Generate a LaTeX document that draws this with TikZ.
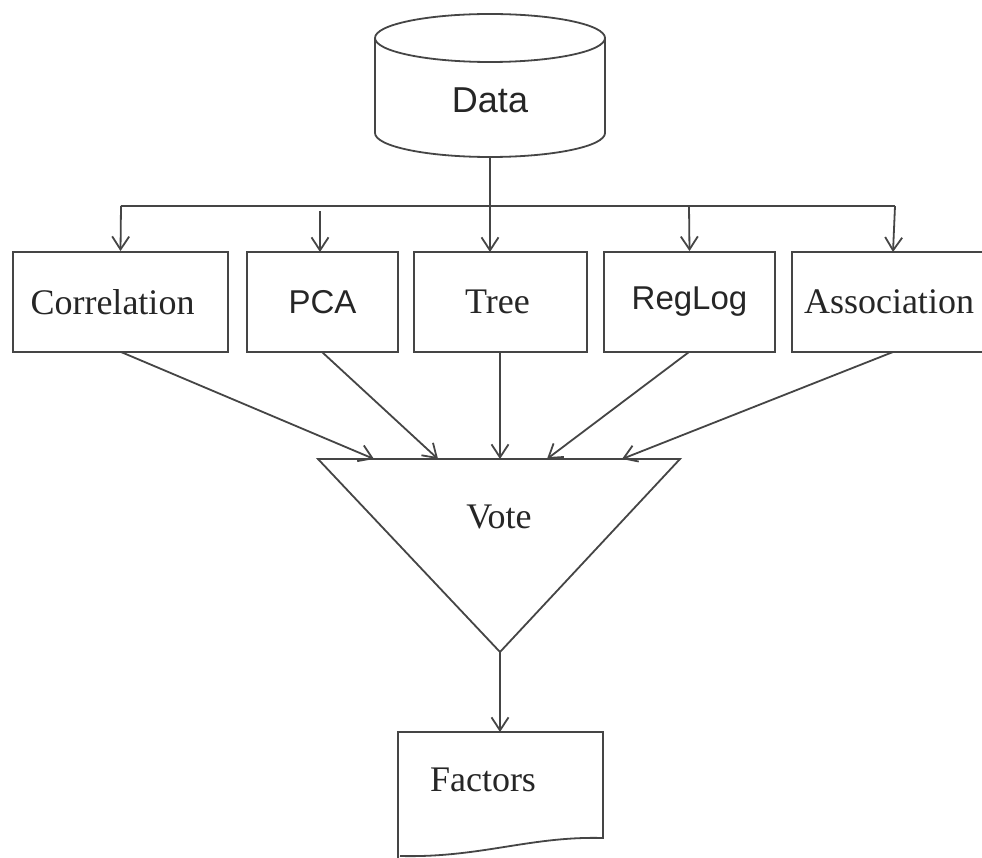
\documentclass[tikz,border=0pt]{standalone}
\usepackage{fontspec}
\setmainfont{Liberation Serif}
\newfontfamily\arialf{Liberation Sans}
\usetikzlibrary{arrows.meta}
\definecolor{ln}{HTML}{454545}
\tikzset{
  conn/.style={draw=ln, line width=1.8pt},
  arr/.style={conn, -{Straight Barb[length=13pt, width=17pt, line width=1.8pt]}},
  procbox/.style={draw=ln, line width=1.8pt, minimum height=100pt, inner sep=0pt,
    font=\fontsize{36}{40}\selectfont, text=black!85},
  sansbox/.style={procbox, font=\arialf\fontsize{33}{38}\selectfont},
  lbl/.style={inner sep=0pt, text=black!85, font=\fontsize{36}{40}\selectfont}
}
\begin{document}
\begin{tikzpicture}[x=1pt, y=-1pt]
\useasboundingbox[fill=white] (0,0) rectangle (982,858);

% Data cylinder
\draw[conn] (490,38) ellipse[x radius=115, y radius=24];
\draw[conn] (375,38) -- (375,133) arc[start angle=180, end angle=0, x radius=115, y radius=24] -- (605,38);
\node[lbl, font=\arialf\fontsize{36}{40}\selectfont] (data) at (490,100) {Data};
\coordinate (datab) at (490,157);

% bus
\coordinate (busl) at (121,206);
\coordinate (busr) at (895,206);
\coordinate (busm) at (490,206);
\draw[conn] (datab) -- (busm);
\draw[conn] (busl) -- (busr);

% boxes
\node[procbox, minimum width=215pt] (corr) at (120.5,302) {\hspace*{-16pt}Correlation};
\node[sansbox, minimum width=151pt] (pca) at (322.5,302) {PCA};
\node[procbox, minimum width=173pt] (tree) at (500.5,302) {\hspace*{-6pt}Tree};
\node[sansbox, minimum width=171pt] (reg) at (689.5,302) {RegLog};
\node[procbox, minimum width=200pt] (assoc) at (892,302) {\hspace*{-6pt}Association};

% arrows from bus
\draw[arr] (busl) -- (corr.north);
\draw[arr] (320,211) -- (320,252);
\draw[arr] (busm) -- (490,252);
\draw[arr] (689,206) -- (reg.north);
\draw[arr] (busr) -- (893,252);

% Vote triangle
\coordinate (tl) at (318,459);
\coordinate (tr) at (680,459);
\coordinate (tb) at (500,652);
\draw[conn, line join=miter] (tl) -- (tr) -- (tb) -- cycle;
\node[lbl] (vote) at (499,517) {Vote};
\coordinate (v1) at (374,459);
\coordinate (v2) at (438,459);
\coordinate (v3) at (500,459);
\coordinate (v4) at (547,459);
\coordinate (v5) at (622,459);

\draw[arr] (121,352) -- (v1);
\draw[arr] (322,352) -- (v2);
\draw[arr] (500,352) -- (v3);
\draw[arr] (689,352) -- (v4);
\draw[arr] (893,352) -- (v5);

% Factors document
\draw[conn] (398,858) -- (398,732) -- (603,732) -- (603,838)
  .. controls (530,836) and (480,858) .. (400,856);
\node[lbl] (fact) at (483,780) {Factors};
\coordinate (facttop) at (500,732);
\draw[arr] (tb) -- (facttop);
\end{tikzpicture}
\end{document}
